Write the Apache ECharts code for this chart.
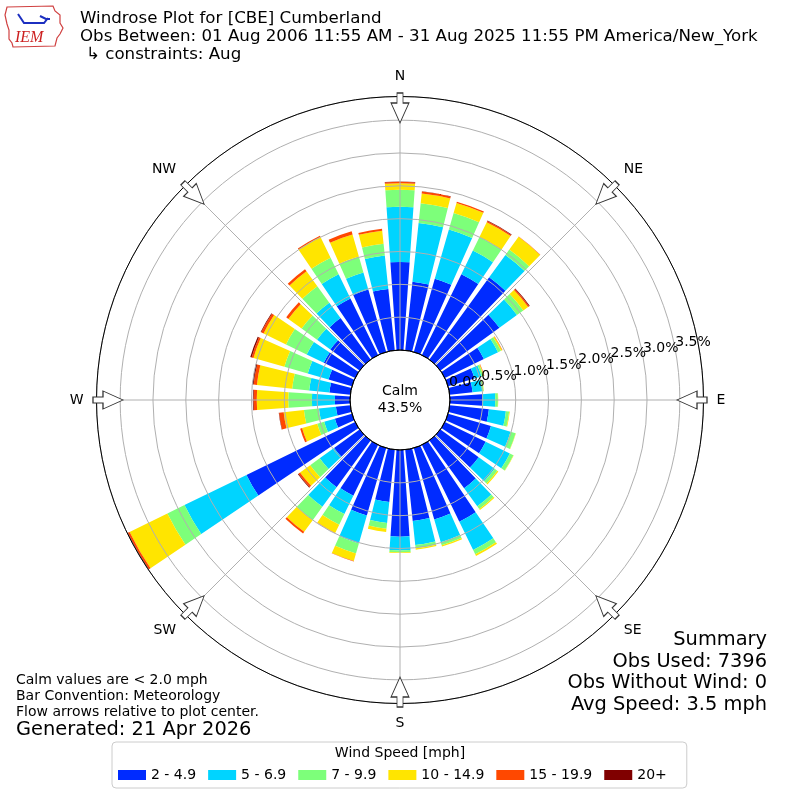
<!DOCTYPE html>
<html><head><meta charset="utf-8">
<script src="https://cdn.jsdelivr.net/npm/echarts@6/dist/echarts.min.js"></script>
<style>html,body{margin:0;padding:0;background:#fff}#c{width:800px;height:800px}</style>
</head><body><div id="c"></div>
<script>
// ---- data ----
const directions = [0,10,20,30,40,50,60,70,80,90,100,110,120,130,140,150,160,170,180,190,200,210,220,230,240,250,260,270,280,290,300,310,320,330,340,350];
const speedBins = ['2 - 4.9','5 - 6.9','7 - 9.9','10 - 14.9','15 - 19.9','20+'];
const binColors = ['#002bff','#00d4ff','#7dff7a','#ffe500','#ff4800','#800000'];
// percent of observations per direction (stacked)
const pct_2_49   = [1.34,1.05,1.16,1.37,1.55,1.11,0.66,0.42,0.35,0.49,0.60,0.68,0.69,0.72,0.90,1.30,1.13,1.09,1.32,0.80,1.07,0.86,0.88,0.48,1.84,0.27,0.22,0.23,0.32,0.37,0.53,0.55,0.78,0.96,0.99,0.94];
const pct_5_69   = [0.84,0.90,0.78,0.40,0.42,0.33,0.24,0.11,0.15,0.20,0.26,0.31,0.41,0.30,0.34,0.48,0.36,0.37,0.21,0.32,0.44,0.31,0.37,0.27,1.05,0.17,0.26,0.35,0.31,0.33,0.29,0.25,0.29,0.41,0.27,0.51];
const pct_7_99   = [0.26,0.30,0.26,0.23,0.10,0.12,0.05,0.03,0.02,0.04,0.05,0.08,0.06,0.05,0.05,0.07,0.05,0.05,0.03,0.09,0.16,0.18,0.25,0.18,0.29,0.11,0.23,0.36,0.26,0.37,0.35,0.29,0.31,0.28,0.25,0.18];
const pct_10_149 = [0.10,0.15,0.16,0.25,0.24,0.09,0.02,0.01,0.005,0.005,0.01,0.005,0.005,0.02,0.02,0.03,0.02,0.02,0.01,0.05,0.12,0.14,0.22,0.19,0.64,0.24,0.31,0.48,0.54,0.49,0.38,0.25,0.28,0.35,0.35,0.20];
const pct_15_199 = [0.02,0.03,0.02,0.02,0.005,0.02,0.005,0.005,0,0,0,0,0,0,0,0,0,0,0,0,0.005,0.005,0.03,0.03,0.03,0.03,0.07,0.05,0.05,0.03,0.04,0.04,0.04,0.02,0.05,0.03];
const pct_20p    = [0.005,0.005,0,0.01,0,0.01,0,0,0,0,0,0,0,0,0,0,0,0,0,0,0,0,0,0.01,0.01,0,0.005,0.01,0.02,0.02,0.01,0,0,0,0,0];
const binValues = [pct_2_49, pct_5_69, pct_7_99, pct_10_149, pct_15_199, pct_20p];
const radiusMax = 3.86;
const ringInterval = 0.5;
const compassAngles = [0,45,90,135,180,225,270,315];
const compassLabels = ['N','NE','E','SE','S','SW','W','NW'];
const arrowRadius = 3.685;
const calmPct = '43.5%';
const summaryLines = ['Summary','Obs Used: 7396','Obs Without Wind: 0','Avg Speed: 3.5 mph'];
const noteLines = ['Calm values are < 2.0 mph','Bar Convention: Meteorology','Flow arrows relative to plot center.'];

const FONT = '"DejaVu Sans", sans-serif';
const chart = echarts.init(document.getElementById('c'), null, {renderer:'canvas'});
const CENTER = [400, 400];
const RADIUS = [50, 303.5];

const gridColors = ['#000000'].concat(new Array(12).fill('#b0b0b0'));
const isHalfStep = v => Math.abs(v * 2 - Math.round(v * 2)) < 1e-6;

const barSeries = speedBins.map((name, i) => ({
  name: name,
  type: 'bar',
  coordinateSystem: 'polar',
  polarIndex: 0,
  stack: 'wind',
  barCategoryGap: '20%',
  itemStyle: {color: binColors[i]},
  data: binValues[i],
  z: 2
}));

const arrowPath = 'path://M6,0 L12,0 L12,10 L18,10 L9,30 L0,10 L6,10 Z';

const ringLabelStyle = {show: true, margin: 2, fontSize: 14, color: '#000', fontFamily: FONT,
  align: 'left', verticalAlign: 'bottom', hideOverlap: false};

const option = {
  backgroundColor: '#ffffff',
  animation: false,
  textStyle: {fontFamily: FONT},
  polar: [
    {center: CENTER, radius: RADIUS},
    {center: CENTER, radius: RADIUS},
    {center: CENTER, radius: RADIUS},
    {center: CENTER, radius: RADIUS}
  ],
  angleAxis: [
    {polarIndex: 0, type: 'category', data: directions, startAngle: 95, clockwise: true, show: false},
    {polarIndex: 1, type: 'value', min: 0, max: 360, interval: 45, startAngle: 90, clockwise: true, z: 5,
      axisLine: {show: true, lineStyle: {color: '#000', width: 1}},
      axisTick: {show: false},
      splitLine: {show: true, lineStyle: {color: '#b0b0b0', width: 1}},
      axisLabel: {show: true, margin: 13, fontSize: 14, color: '#000', fontFamily: FONT,
        formatter: v => { const k = compassAngles.indexOf(Math.round(v)); return k >= 0 ? compassLabels[k] : ''; }}
    },
    {polarIndex: 2, type: 'value', min: 0, max: 360, startAngle: 10, clockwise: true, show: false},
    {polarIndex: 3, type: 'value', min: 0, max: 360, startAngle: 10, clockwise: true, show: false}
  ],
  radiusAxis: [
    {polarIndex: 0, type: 'value', min: 0, max: radiusMax, show: false},
    {polarIndex: 1, type: 'value', min: 0, max: radiusMax, interval: ringInterval, z: 5,
      axisLine: {show: false}, axisTick: {show: false}, axisLabel: {show: false},
      splitLine: {show: true, lineStyle: {color: gridColors, width: 1}}},
    {polarIndex: 2, type: 'value', min: 0, max: radiusMax, interval: ringInterval, z: 6,
      axisLine: {show: false}, axisTick: {show: false}, splitLine: {show: false},
      axisLabel: Object.assign({}, ringLabelStyle, {showMinLabel: false, showMaxLabel: false,
        formatter: v => (v > 0 && isHalfStep(v) ? v.toFixed(1) + '%' : '')})},
    {polarIndex: 3, type: 'value', min: 0, max: radiusMax, interval: ringInterval, z: 6,
      axisLine: {show: false}, axisTick: {show: false}, splitLine: {show: false},
      axisLabel: Object.assign({}, ringLabelStyle, {showMinLabel: true, showMaxLabel: false,
        formatter: v => (v === 0 ? v.toFixed(1) + '%' : '')})}
  ],
  legend: {
    data: speedBins,
    left: 112, top: 742,
    padding: [26, 20, 6, 6],
    itemWidth: 28, itemHeight: 10, itemGap: 12,
    icon: 'rect',
    selectedMode: false,
    borderColor: '#cccccc', borderWidth: 1, borderRadius: 4,
    textStyle: {fontSize: 14, color: '#000', fontFamily: FONT}
  },
  series: barSeries.concat([{
    type: 'scatter',
    coordinateSystem: 'polar',
    polarIndex: 1,
    symbol: arrowPath,
    symbolSize: [18, 30],
    itemStyle: {color: '#ffffff', borderColor: '#333333', borderWidth: 1, opacity: 1},
    z: 10,
    silent: true,
    data: compassAngles.map(a => ({value: [arrowRadius, a], symbolRotate: -a}))
  }]),
  graphic: [
    // IEM logo (simple)
    {type: 'polygon', z: 20, shape: {points: [[7,7],[53,6],[55,11],[60,15],[60,23],[63,28],[60,34],[57,38],[55,46],[13,47],[12,43],[9,39],[9,30],[7,24],[5,15]]},
      style: {fill: 'none', stroke: '#d04040', lineWidth: 1.2}},
    {type: 'polyline', z: 20, shape: {points: [[18,14],[22,20],[24,23],[44,23],[48,18]]}, style: {stroke: '#1c2fc0', lineWidth: 2, fill: 'none'}},
    {type: 'polyline', z: 20, shape: {points: [[40,16],[46,19],[50,19]]}, style: {stroke: '#1c2fc0', lineWidth: 2, fill: 'none'}},
    {type: 'text', z: 20, x: 15, y: 38, style: {text: 'IEM', font: 'italic 16px "Liberation Serif", serif', fill: '#cc2020', textAlign: 'left', align: 'left', textVerticalAlign: 'middle', verticalAlign: 'middle'}},
    // titles
    {type: 'text', z: 20, x: 80, y: 19, style: {text: 'Windrose Plot for [CBE] Cumberland', font: '16.67px ' + FONT, fill: '#000', textAlign: 'left', align: 'left', textVerticalAlign: 'middle', verticalAlign: 'middle'}},
    {type: 'text', z: 20, x: 80, y: 37, style: {text: 'Obs Between: 01 Aug 2006 11:55 AM - 31 Aug 2025 11:55 PM America/New_York', font: '16.67px ' + FONT, fill: '#000', textAlign: 'left', align: 'left', textVerticalAlign: 'middle', verticalAlign: 'middle'}},
    {type: 'text', z: 20, x: 86, y: 55, style: {text: '\u21b3 constraints: Aug', font: '16.67px ' + FONT, fill: '#000', textAlign: 'left', align: 'left', textVerticalAlign: 'middle', verticalAlign: 'middle'}},
    // calm
    {type: 'text', z: 20, x: 400, y: 391, style: {text: 'Calm', font: '14px ' + FONT, fill: '#000', textAlign: 'center', align: 'center', textVerticalAlign: 'middle', verticalAlign: 'middle'}},
    {type: 'text', z: 20, x: 400, y: 408, style: {text: calmPct, font: '14px ' + FONT, fill: '#000', textAlign: 'center', align: 'center', textVerticalAlign: 'middle', verticalAlign: 'middle'}},
    // notes
    ...noteLines.map((t, i) => ({type: 'text', z: 20, x: 16, y: 680 + i * 16, style: {text: t, font: '14px ' + FONT, fill: '#000', textAlign: 'left', align: 'left', textVerticalAlign: 'middle', verticalAlign: 'middle'}})),
    {type: 'text', z: 20, x: 16, y: 730, style: {text: 'Generated: 21 Apr 2026', font: '19.4px ' + FONT, fill: '#000', textAlign: 'left', align: 'left', textVerticalAlign: 'middle', verticalAlign: 'middle'}},
    // summary
    ...summaryLines.map((t, i) => ({type: 'text', z: 20, x: 767, y: 640 + i * 21.7, style: {text: t, font: '19.4px ' + FONT, fill: '#000', textAlign: 'right', align: 'right', textVerticalAlign: 'middle', verticalAlign: 'middle'}})),
    // legend title
    {type: 'text', z: 20, x: 400, y: 753, style: {text: 'Wind Speed [mph]', font: '14px ' + FONT, fill: '#000', textAlign: 'center', align: 'center', textVerticalAlign: 'middle', verticalAlign: 'middle'}}
  ]
};
chart.setOption(option);
</script>
</body></html>
